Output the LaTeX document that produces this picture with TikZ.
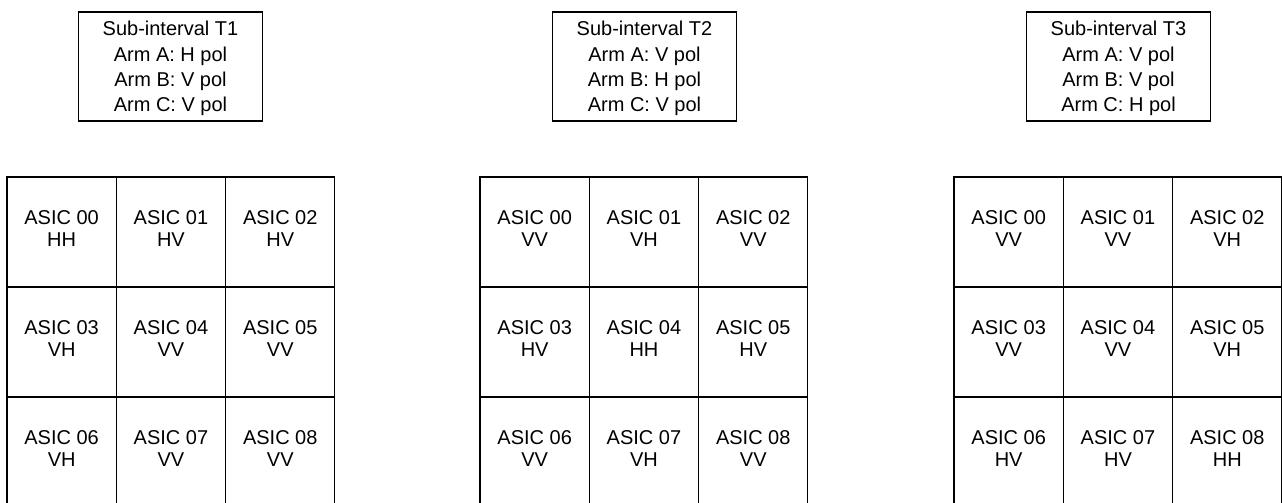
\documentclass[tikz,border=0pt]{standalone}
\usepackage{fontspec}
\setmainfont{Liberation Sans}
\begin{document}
\begin{tikzpicture}[x=0.75pt,y=-0.75pt,
  cell/.style={draw=black,line width=0.85pt,minimum width=81.9pt,minimum height=82.5pt,
    inner sep=0pt,align=center,text depth=5.25pt,
    font=\fontsize{15pt}{16.9pt}\selectfont},
  infobox/.style={draw=black,line width=0.85pt,minimum width=138pt,minimum height=81.75pt,
    inner sep=0pt,align=center,text depth=0pt,
    font=\fontsize{15pt}{19pt}\selectfont}]
\clip (0,0) rectangle (1282,503);
\fill[white] (0,0) rectangle (1282,503);
\node[infobox] (b1) at (170.5,66.5) {Sub-interval T1\\Arm A: H pol\\Arm B: V pol\\Arm C: V pol};
\node[infobox] (b2) at (644.5,66.5) {Sub-interval T2\\Arm A: V pol\\Arm B: H pol\\Arm C: V pol};
\node[infobox] (b3) at (1118.5,66.5) {Sub-interval T3\\Arm A: V pol\\Arm B: V pol\\Arm C: H pol};
\foreach \g/\gx/\pols in {1/7/{HH,HV,HV,VH,VV,VV,VH,VV,VV},
                          2/480/{VV,VH,VV,HV,HH,HV,VV,VH,VV},
                          3/954/{VV,VV,VH,VV,VV,VH,HV,HV,HH}}{
  \foreach \p [count=\i from 0] in \pols {
    \pgfmathtruncatemacro\r{int(\i/3)}
    \pgfmathtruncatemacro\c{\i-3*\r}
    \node[cell] (c\g-\i) at ({\gx+(\c+0.5)*109.3},{177+(\r+0.5)*110}) {ASIC 0\i\\\p};
  }
}
\end{tikzpicture}
\end{document}
